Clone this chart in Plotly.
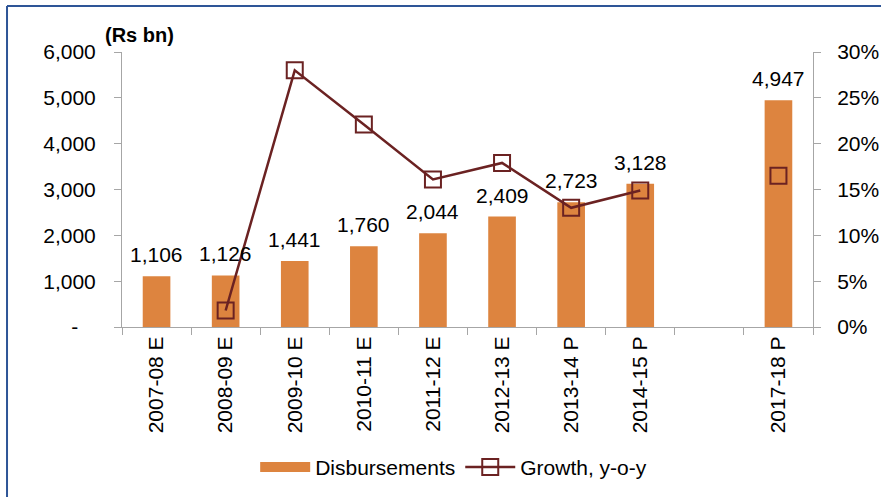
import plotly.graph_objects as go

categories = ["2007-08 E", "2008-09 E", "2009-10 E", "2010-11 E", "2011-12 E",
              "2012-13 E", "2013-14 P", "2014-15 P", " ", "2017-18 P"]
disbursements = [1106, 1126, 1441, 1760, 2044, 2409, 2723, 3128, None, 4947]
growth = [None, 0.018, 0.280, 0.221, 0.161, 0.179, 0.130, 0.149, None, 0.165]
label_texts = ["1,106", "1,126", "1,441", "1,760", "2,044", "2,409", "2,723", "3,128", "", "4,947"]
left_ticks = [0, 1000, 2000, 3000, 4000, 5000, 6000]
left_ticktext = ["-\u00a0\u00a0\u00a0", "1,000", "2,000", "3,000", "4,000", "5,000", "6,000"]

FONT = "Liberation Sans, Arial, sans-serif"
BAR = "#DD843F"
LINE = "#6B2222"
AXIS = "#A6A6A6"

fig = go.Figure()
fig.add_trace(go.Bar(
    x=categories, y=disbursements, name="Disbursements", showlegend=False,
    marker=dict(color=BAR, line=dict(width=0)),
))
# legend-only entry giving the wide rectangular swatch of the bar series
fig.add_trace(go.Scatter(
    x=[None], y=[None], name="Disbursements", mode="lines",
    line=dict(color=BAR, width=10), hoverinfo="skip",
))
fig.add_trace(go.Scatter(
    x=categories, y=growth, name="Growth, y-o-y", yaxis="y2",
    mode="lines+markers", connectgaps=False,
    line=dict(color=LINE, width=2.5),
    marker=dict(symbol="square-open", size=16, color=LINE, line=dict(width=2, color=LINE)),
))

annotations = []
for c, v, t in zip(categories, disbursements, label_texts):
    if v is None:
        continue
    annotations.append(dict(x=c, y=v, xref="x", yref="y", text=t, showarrow=False,
                            yanchor="bottom", yshift=8,
                            font=dict(family=FONT, size=21, color="#000000")))
annotations.append(dict(x=0.026, y=1.062, xref="paper", yref="paper", text="<b>(Rs bn)</b>",
                        showarrow=False, xanchor="center", yanchor="middle",
                        font=dict(family=FONT, size=20, color="#000000")))

shapes = [
    dict(type="line", xref="paper", yref="paper", x0=-0.1664, x1=-0.1664, y0=1.1673, y1=-0.62,
         line=dict(color="#2E5597", width=2)),
    dict(type="line", xref="paper", yref="paper", x0=-0.1664, x1=1.1, y0=1.1673, y1=1.1673,
         line=dict(color="#2E5597", width=2)),
]

fig.update_layout(
    width=881, height=497,
    margin=dict(l=122, r=68, t=52, b=170, autoexpand=False),
    paper_bgcolor="white", plot_bgcolor="white",
    font=dict(family=FONT, size=21, color="#000000"),
    bargap=0.6,
    showlegend=True,
    legend=dict(orientation="h", x=0.48, xanchor="center", y=-0.51, yanchor="middle",
                font=dict(family=FONT, size=21), itemwidth=50, traceorder="normal"),
    xaxis=dict(type="category", categoryorder="array", categoryarray=categories,
               range=[-0.5, len(categories) - 0.5],
               tickangle=-90, tickfont=dict(family=FONT, size=21), automargin=False,
               showline=True, linecolor=AXIS, linewidth=1,
               ticks="outside", ticklen=7, tickcolor=AXIS, tickson="boundaries",
               showgrid=False, zeroline=False),
    yaxis=dict(range=[0, 6000], tickvals=left_ticks, ticktext=left_ticktext, automargin=False,
               showline=True, linecolor=AXIS, linewidth=1,
               ticks="outside", ticklen=7, tickcolor=AXIS,
               showgrid=False, zeroline=False, tickfont=dict(family=FONT, size=21),
               ticklabelstandoff=14),
    yaxis2=dict(range=[0, 0.30], dtick=0.05, tickformat=".0%", overlaying="y", side="right",
                automargin=False,
                showline=True, linecolor=AXIS, linewidth=1,
                ticks="outside", ticklen=7, tickcolor=AXIS,
                showgrid=False, zeroline=False, tickfont=dict(family=FONT, size=21),
                ticklabelstandoff=12),
    annotations=annotations,
    shapes=shapes,
)

fig.write_html("out.html", config={"displayModeBar": False},
               post_script="document.body.style.margin='0';document.body.style.overflow='hidden';")
